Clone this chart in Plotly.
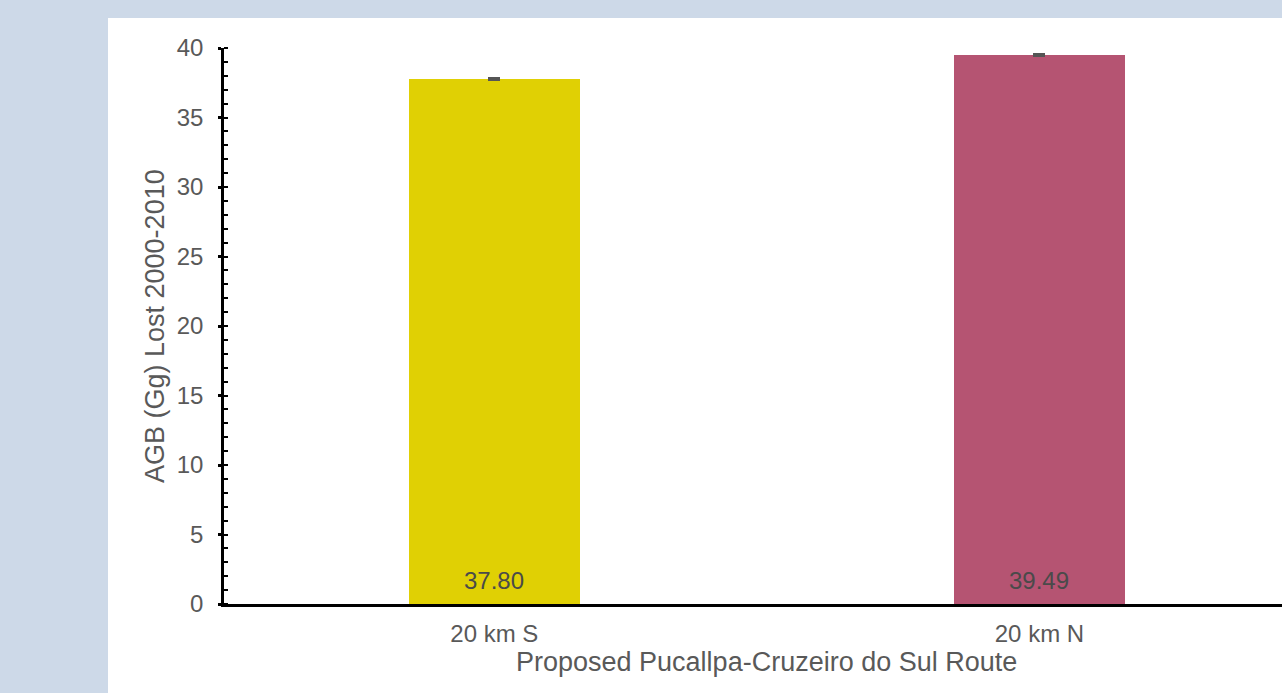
import plotly.graph_objects as go

categories = ["20 km S", "20 km N"]
values = [37.80, 39.49]
errors = [0.05, 0.05]
bar_colors = ["#e0d004", "#b55472"]
value_labels = ["37.80", "39.49"]
y_tick_vals = [0, 5, 10, 15, 20, 25, 30, 35, 40]
x_title = "Proposed Pucallpa-Cruzeiro do Sul Route"
y_title = "AGB (Gg) Lost 2000-2010"

W, H = 1282, 693
L, R, T, B = 224, 0, 48, 89
pw, ph = W - L - R, H - T - B

FONT = "Liberation Sans, Arial, Helvetica, sans-serif"
GREY = "#595959"

fig = go.Figure()
fig.add_trace(go.Bar(
    x=[0, 1], y=values, width=0.314,
    marker=dict(color=bar_colors, line=dict(width=0)),
    error_y=dict(type="data", array=errors, color="#555555", thickness=2.5, width=6),
    hoverinfo="skip",
))

for i, lab in enumerate(value_labels):
    fig.add_annotation(x=i, y=0, xref="x", yref="y", text=lab, showarrow=False,
                       yanchor="middle", yshift=24,
                       font=dict(family=FONT, size=24, color="#4a4a4a"))

fig.add_annotation(x=0.5, xref="x", y=-(662 - 604) / ph, yref="paper",
                   text=x_title, showarrow=False, yanchor="middle",
                   font=dict(family=FONT, size=27, color=GREY))

fig.add_annotation(x=(155 - L) / pw, xref="paper", y=0.5, yref="paper",
                   text=y_title, showarrow=False, textangle=-90,
                   xanchor="center", yanchor="middle",
                   font=dict(family=FONT, size=27, color=GREY))

fig.add_shape(type="rect", xref="paper", yref="paper",
              x0=(108 - L) / pw, x1=1.0, y0=-(H - T - ph) / ph - 0.01, y1=(ph + T - 18) / ph,
              fillcolor="white", line=dict(width=0), layer="below")

fig.update_layout(
    width=W, height=H,
    margin=dict(l=L, r=R, t=T, b=B, pad=0),
    paper_bgcolor="#cdd9e8", plot_bgcolor="white",
    showlegend=False, bargap=0,
    font=dict(family=FONT, color=GREY),
    xaxis=dict(range=[-0.496, 1.445], tickvals=[0, 1], ticktext=categories,
               showline=True, linecolor="black", linewidth=2.5, ticks="",
               showgrid=False, zeroline=False, fixedrange=True,
               tickfont=dict(family=FONT, size=24, color=GREY), ticklabelstandoff=6),
    yaxis=dict(range=[0, 40], tickvals=y_tick_vals,
               showline=True, linecolor="black", linewidth=2.5,
               ticks="outside", ticklen=3, tickwidth=2.5, tickcolor="black",
               minor=dict(ticks="inside", ticklen=4, tickwidth=2, tickcolor="black", dtick=1, showgrid=False),
               showgrid=False, zeroline=False, fixedrange=True,
               tickfont=dict(family=FONT, size=24, color=GREY), ticklabelstandoff=10),
)

fig.write_html("out.html", config={"displayModeBar": False},
               post_script="document.body.style.margin='0';document.body.style.overflow='hidden';")
